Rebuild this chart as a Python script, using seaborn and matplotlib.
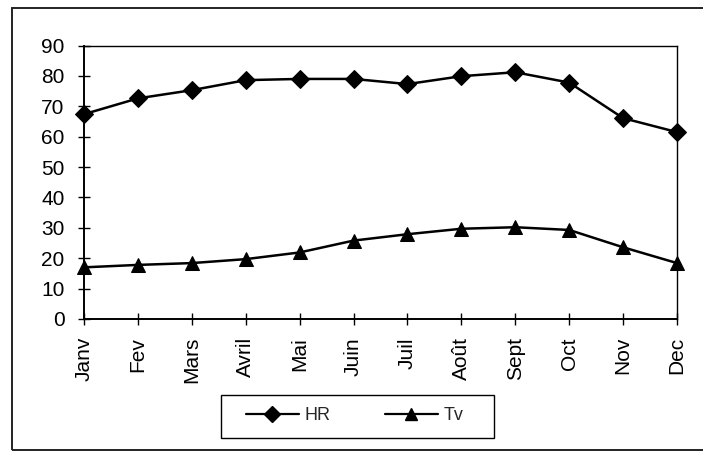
import matplotlib
matplotlib.use("Agg")
import matplotlib.pyplot as plt
import pandas as pd
import seaborn as sns
from matplotlib.patches import Rectangle
from matplotlib.lines import Line2D

months = ["Janv", "Fev", "Mars", "Avril", "Mai", "Juin",
          "Juil", "Août", "Sept", "Oct", "Nov", "Dec"]
hr = [67.4, 72.6, 75.3, 78.6, 79.0, 79.0, 77.3, 79.9, 81.2, 77.8, 66.1, 61.5]
tv = [17.0, 17.8, 18.4, 19.7, 21.9, 25.8, 27.9, 29.7, 30.2, 29.3, 23.6, 18.4]
y_ticks = [0, 10, 20, 30, 40, 50, 60, 70, 80, 90]

df = pd.DataFrame({
    "mois": months * 2,
    "valeur": hr + tv,
    "serie": ["HR"] * len(months) + ["Tv"] * len(months),
})

sns.set_theme(style="white")
plt.rcParams["font.family"] = ["Liberation Sans", "DejaVu Sans"]

fig = plt.figure(figsize=(7.03, 4.54), dpi=100)
ax = fig.add_axes([84 / 703, 1 - 319 / 454, (677 - 84) / 703, (319 - 45.5) / 454])

sns.lineplot(
    data=df, x="mois", y="valeur", style="serie", hue="serie",
    palette={"HR": "black", "Tv": "black"},
    markers={"HR": "D", "Tv": "^"}, dashes=False,
    markersize=9.5, linewidth=1.8, markeredgecolor="black",
    sort=False, legend=False, ax=ax,
)
for ln in ax.lines:
    ln.set_clip_on(False)
    ln.set_zorder(5)

ax.set_xlim(0, len(months) - 1)
ax.set_ylim(0, 90)
ax.set_yticks(y_ticks)
ax.set_yticklabels([str(v) for v in y_ticks])
ax.set_xticks(range(len(months)))
ax.set_xticklabels(months, rotation=90)
ax.set_xlabel("")
ax.set_ylabel("")
ax.tick_params(axis="both", which="major", direction="inout", length=8,
               width=1, color="black", labelsize=15, labelcolor="black",
               left=True, bottom=True)
ax.tick_params(axis="y", pad=10)
ax.tick_params(axis="x", pad=9)
for side, sp in ax.spines.items():
    sp.set_visible(True)
    sp.set_color("black")
    sp.set_linewidth(1.4 if side in ("left", "bottom") else 1.0)

# legend entries, with a separate box drawn around them
handles = [
    Line2D([], [], color="black", lw=1.6, marker="D", markersize=8.5),
    Line2D([], [], color="black", lw=1.6, marker="^", markersize=8.5),
]
fig.legend(handles, ["HR", "Tv"], loc="center", ncol=2,
           bbox_to_anchor=(355 / 703, 1 - 416 / 454),
           frameon=False, fontsize=13, handlelength=2.9, columnspacing=3.0,
           handletextpad=0.35)
fig.patches.append(Rectangle((221 / 703, 1 - 438 / 454), 273 / 703, 43 / 454,
                             transform=fig.transFigure, fill=False,
                             edgecolor="black", linewidth=1.0))

# outer chart border
fig.patches.append(Rectangle((12 / 703, 1 - 450 / 454), 700 / 703, 442 / 454,
                             transform=fig.transFigure, fill=False,
                             edgecolor="#222222", linewidth=1.4))

fig.savefig("out.png", dpi=100, facecolor="white")
